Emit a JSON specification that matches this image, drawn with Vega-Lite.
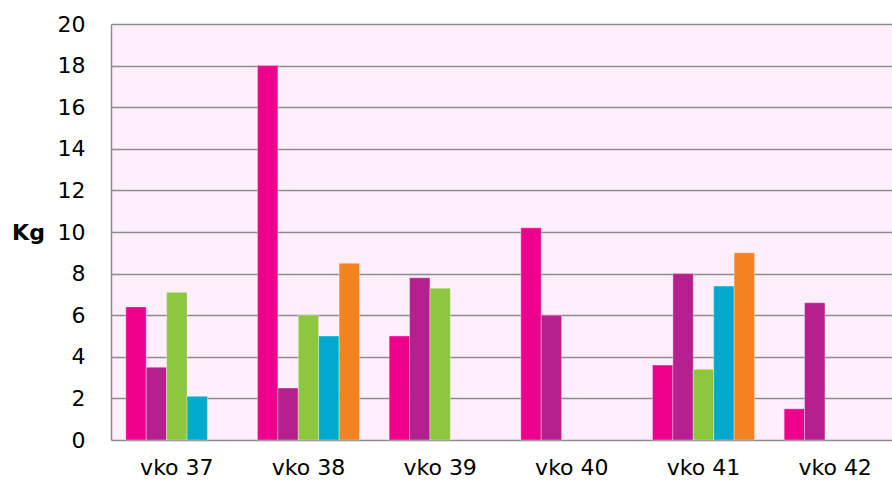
{
  "$schema": "https://vega.github.io/schema/vega-lite/v6.json",
  "autosize": "none",
  "width": 790,
  "height": 416,
  "padding": {"left": 111, "top": 24, "right": 0, "bottom": 46},
  "background": "#ffffff",
  "config": {
    "view": {"fill": "#FFEEFC", "stroke": null},
    "font": "DejaVu Sans"
  },
  "data": {
    "values": [
      {"week": "vko 37", "series": "A", "kg": 6.4},
      {"week": "vko 37", "series": "B", "kg": 3.5},
      {"week": "vko 37", "series": "C", "kg": 7.1},
      {"week": "vko 37", "series": "D", "kg": 2.1},
      {"week": "vko 38", "series": "A", "kg": 18},
      {"week": "vko 38", "series": "B", "kg": 2.5},
      {"week": "vko 38", "series": "C", "kg": 6.0},
      {"week": "vko 38", "series": "D", "kg": 5.0},
      {"week": "vko 38", "series": "E", "kg": 8.5},
      {"week": "vko 39", "series": "A", "kg": 5.0},
      {"week": "vko 39", "series": "B", "kg": 7.8},
      {"week": "vko 39", "series": "C", "kg": 7.3},
      {"week": "vko 40", "series": "A", "kg": 10.2},
      {"week": "vko 40", "series": "B", "kg": 6.0},
      {"week": "vko 41", "series": "A", "kg": 3.6},
      {"week": "vko 41", "series": "B", "kg": 8.0},
      {"week": "vko 41", "series": "C", "kg": 3.4},
      {"week": "vko 41", "series": "D", "kg": 7.4},
      {"week": "vko 41", "series": "E", "kg": 9.0},
      {"week": "vko 42", "series": "A", "kg": 1.5},
      {"week": "vko 42", "series": "B", "kg": 6.6}
    ]
  },
  "mark": {"type": "bar", "stroke": "#ffffff", "strokeOpacity": 0.5, "strokeWidth": 0.7},
  "encoding": {
    "x": {
      "field": "week", "type": "nominal",
      "scale": {"paddingInner": 0.225, "paddingOuter": 0.1125},
      "axis": {
        "title": null, "labelAngle": 0, "ticks": false, "domain": false,
        "labelFontSize": 22, "labelColor": "#000000", "labelPadding": 17,
        "labelFont": "DejaVu Sans"
      }
    },
    "xOffset": {
      "field": "series", "type": "nominal",
      "scale": {"domain": ["A", "B", "C", "D", "E"], "paddingInner": 0, "paddingOuter": 0}
    },
    "y": {
      "field": "kg", "type": "quantitative",
      "scale": {"domain": [0, 20], "nice": false},
      "axis": {
        "values": [0, 2, 4, 6, 8, 10, 12, 14, 16, 18, 20],
        "title": "Kg", "titleAngle": 0, "titleFontWeight": "bold", "titleFontSize": 22,
        "titleX": -83, "titleY": 208, "titleAlign": "center", "titleBaseline": "middle",
        "titleColor": "#000000",
        "ticks": false, "labelPadding": 26, "labelFontSize": 22, "labelColor": "#000000",
        "domainColor": "#8c8c8c", "domainWidth": 1.5,
        "gridColor": "#8c8c8c", "gridWidth": 1.5, "gridOpacity": 1
      }
    },
    "color": {
      "field": "series", "type": "nominal", "legend": null,
      "scale": {"domain": ["A", "B", "C", "D", "E"], "range": ["#EC008C", "#B5208E", "#8DC63F", "#00AACC", "#F58220"]}
    }
  }
}
